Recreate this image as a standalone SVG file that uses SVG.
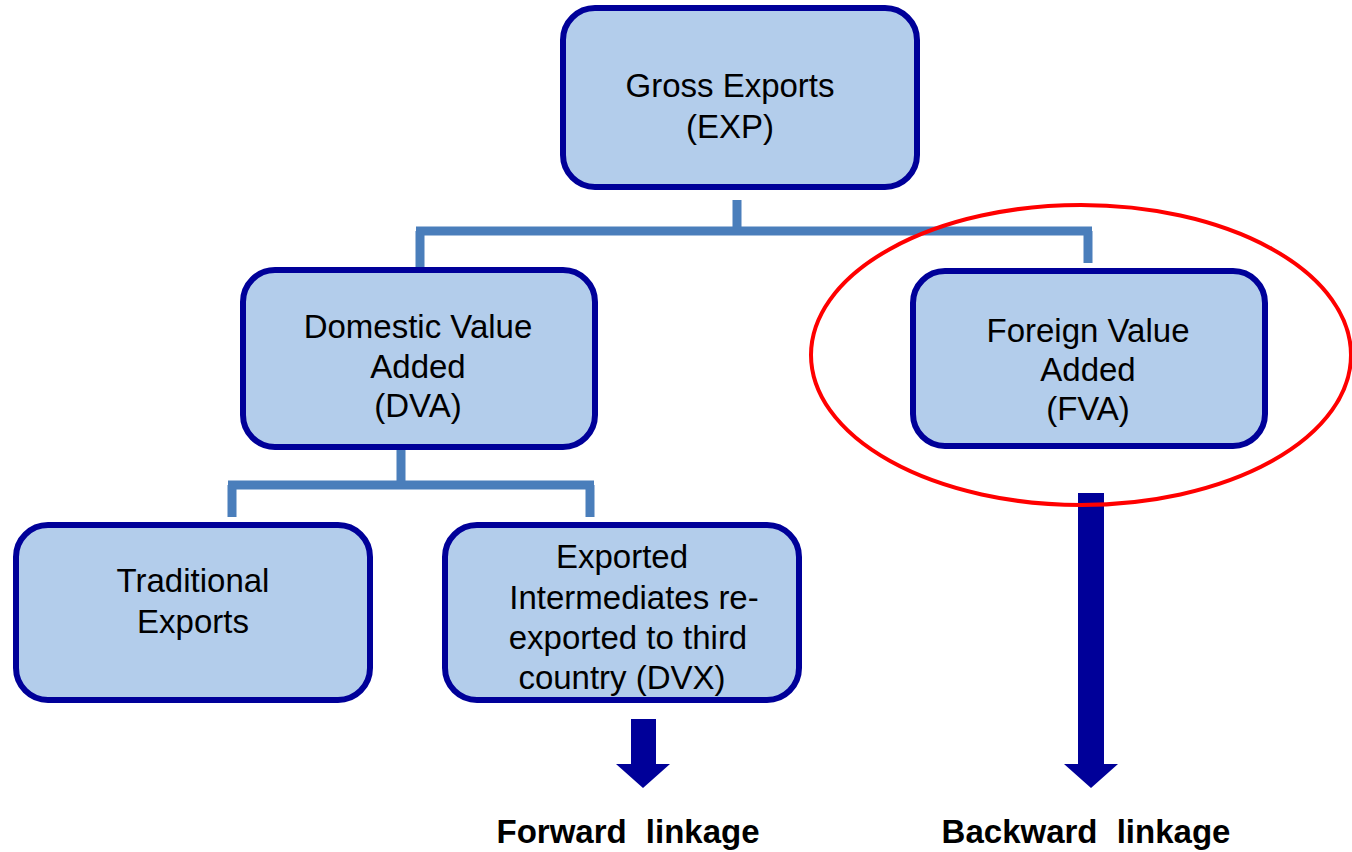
<svg xmlns="http://www.w3.org/2000/svg" width="1352" height="852" viewBox="0 0 1352 852">
<style>
.box{fill:#B3CDEB;stroke:#000099;stroke-width:6}
.t{font-family:"Liberation Sans",Arial,sans-serif;font-size:33px;fill:#000;text-anchor:middle}
.b{font-family:"Liberation Sans",Arial,sans-serif;font-size:33px;font-weight:bold;fill:#000;text-anchor:middle;word-spacing:10px}
.c{fill:none;stroke:#4A7EBB;stroke-width:9}
.arr{fill:#000099}
</style>
<rect width="1352" height="852" fill="#fff"/>
<g id="connectors">
<path class="c" d="M737 200V231M416 231H1092M420 231V267M1088 231V263"/>
<path class="c" d="M401 450V485M228 485H594M232 485V517M590 485V517"/>
</g>
<g id="exp">
<rect class="box" x="563" y="8" width="354" height="179" rx="32"/>
<text class="t" x="730" y="97">Gross Exports</text>
<text class="t" x="730" y="138">(EXP)</text>
</g>
<g id="dva">
<rect class="box" x="243" y="270" width="352" height="177" rx="32"/>
<text class="t" x="418" y="338">Domestic Value</text>
<text class="t" x="418" y="378">Added</text>
<text class="t" x="418" y="417">(DVA)</text>
</g>
<g id="fva">
<rect class="box" x="913" y="271" width="352" height="175" rx="32"/>
<text class="t" x="1088" y="342">Foreign Value</text>
<text class="t" x="1088" y="381">Added</text>
<text class="t" x="1088" y="420">(FVA)</text>
</g>
<g id="traditional">
<rect class="box" x="16" y="525" width="354" height="175" rx="32"/>
<text class="t" x="193" y="592">Traditional</text>
<text class="t" x="193" y="633">Exports</text>
</g>
<g id="dvx">
<rect class="box" x="445" y="525" width="354" height="175" rx="32"/>
<text class="t" x="622" y="568">Exported</text>
<text class="t" x="634" y="609">Intermediates re-</text>
<text class="t" x="628" y="649">exported to third</text>
<text class="t" x="622" y="689">country (DVX)</text>
</g>
<g id="forward">
<polygon class="arr" points="631,719 656,719 656,764 670,764 643,788 616,764 631,764"/>
<text class="b" x="628" y="843">Forward linkage</text>
</g>
<g id="backward">
<polygon class="arr" points="1078,493 1104,493 1104,764 1118,764 1091,788 1064,764 1078,764"/>
<text class="b" x="1086" y="843">Backward linkage</text>
</g>
<g id="highlight">
<ellipse cx="1081" cy="355" rx="270" ry="150" fill="none" stroke="#FF0000" stroke-width="4"/>
</g>
</svg>
